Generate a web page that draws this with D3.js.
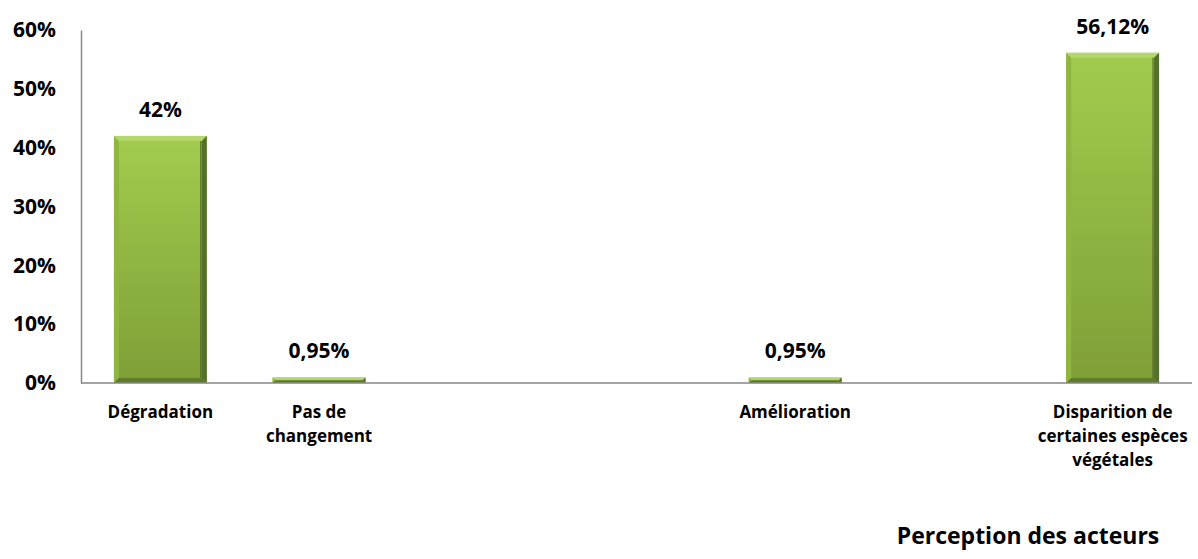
<!DOCTYPE html>
<html><head>
  <meta charset="utf-8">
  <script src="https://d3js.org/d3.v7.min.js"></script>
  <style>
    body { margin: 0; background: #ffffff; }
    text { font-family: 'Open Sans', 'Noto Sans', sans-serif; font-weight: bold; fill: #000; }
  </style>
</head>
<body>
  <script>
    // Data
    const categories = ["Dégradation", "Pas de\nchangement", "", "", "Amélioration", "", "Disparition de\ncertaines espèces\nvégétales"]
    const values = [42, 0.95, null, null, 0.95, null, 56.12]
    const valueLabels = ["42%", "0,95%", "", "", "0,95%", "", "56,12%"]
    const yTicks = [0, 10, 20, 30, 40, 50, 60]
    const axisTitle = "Perception des acteurs"

    const width = 1198, height = 559
    const margin = {top: 30, right: 6, bottom: 176, left: 81}

    const svg = d3.select("body").append("svg")
                  .attr("width", width)
                  .attr("height", height)

    // gradient for the bars
    const defs = svg.append("defs")
    const grad = defs.append("linearGradient").attr("id", "barFill")
                     .attr("x1", 0).attr("y1", 0).attr("x2", 0).attr("y2", 1)
    grad.append("stop").attr("offset", "0%").attr("stop-color", "#a2cc4e")
    grad.append("stop").attr("offset", "100%").attr("stop-color", "#7f9f37")

    const x = d3.scaleBand()
                .domain(d3.range(categories.length))
                .range([margin.left, width - margin.right])
                .paddingInner(0.415)
                .paddingOuter(0.2075)

    const y = d3.scaleLinear()
                .domain([0, 60])
                .range([height - margin.bottom, margin.top])

    // Bars
    const data = values.map((v, i) => ({i: i, v: v, label: valueLabels[i]})).filter(d => d.v != null)

    const bars = svg.append("g").selectAll("g").data(data).join("g")

    bars.append("rect")
        .attr("x", d => x(d.i))
        .attr("y", d => y(d.v))
        .attr("width", x.bandwidth())
        .attr("height", d => y(0) - y(d.v))
        .attr("fill", "url(#barFill)")

    // bevel edges
    bars.each(function(d) {
      const g = d3.select(this)
      const x0 = x(d.i), x1 = x0 + x.bandwidth()
      const y0 = y(d.v), y1 = y(0)
      const b = Math.min(5, (y1 - y0) / 2)
      const pts = a => a.map(p => p.join(",")).join(" ")
      // left
      g.append("polygon").attr("points", pts([[x0, y0], [x0 + b, y0 + b], [x0 + b, y1 - b], [x0, y1]]))
       .attr("fill", "#8fb640")
      // top
      g.append("polygon").attr("points", pts([[x0, y0], [x1, y0], [x1 - b, y0 + b], [x0 + b, y0 + b]]))
       .attr("fill", "#b3d76a")
      // right
      g.append("polygon").attr("points", pts([[x1, y0], [x1, y1], [x1 - b, y1 - b], [x1 - b, y0 + b]]))
       .attr("fill", "#55702a")
      // bottom
      g.append("polygon").attr("points", pts([[x0, y1], [x1, y1], [x1 - b, y1 - b], [x0 + b, y1 - b]]))
       .attr("fill", "#5f7c2c")
      // inner dark line near right edge
      if (b >= 5) {
        g.append("line")
         .attr("x1", x1 - b - 1).attr("x2", x1 - b - 1)
         .attr("y1", y0 + b).attr("y2", y1 - b)
         .attr("stroke", "#4a6323").attr("stroke-width", 1.5).attr("opacity", 0.7)
      }
    })

    // Value labels
    bars.append("text")
        .attr("x", d => x(d.i) + x.bandwidth() / 2)
        .attr("y", d => y(d.v) - 19)
        .attr("text-anchor", "middle")
        .style("font-size", "21px")
        .text(d => d.label)

    // Y axis
    const yAxis = svg.append("g")
                     .attr("transform", `translate(${margin.left},0)`)
                     .call(d3.axisLeft(y).tickValues(yTicks).tickSize(0).tickPadding(25).tickFormat(d => d + "%"))
    yAxis.select(".domain").attr("stroke", "#878787").attr("stroke-width", 1.5)
    yAxis.selectAll("text").style("font-size", "21px").attr("font-family", null)

    // X axis line
    svg.append("line")
       .attr("x1", margin.left).attr("x2", width - margin.right + 0)
       .attr("y1", y(0)).attr("y2", y(0))
       .attr("stroke", "#878787").attr("stroke-width", 1.5)

    // Category labels
    const catLabels = svg.append("g").selectAll("text")
                         .data(categories.map((c, i) => ({i: i, lines: c ? c.split("\n") : []})))
                         .join("text")
                         .attr("x", d => x(d.i) + x.bandwidth() / 2)
                         .attr("y", y(0) + 35)
                         .attr("text-anchor", "middle")
                         .style("font-size", "17px")
    catLabels.selectAll("tspan").data(d => d.lines.map(l => ({l: l, x: x(d.i) + x.bandwidth() / 2})))
             .join("tspan")
             .attr("x", d => d.x)
             .attr("dy", (d, j) => j == 0 ? 0 : 24)
             .text(d => d.l)

    // Axis title
    svg.append("text")
       .attr("x", 1028)
       .attr("y", 544)
       .attr("text-anchor", "middle")
       .style("font-size", "23px")
       .text(axisTitle)
  </script>
</body></html>
